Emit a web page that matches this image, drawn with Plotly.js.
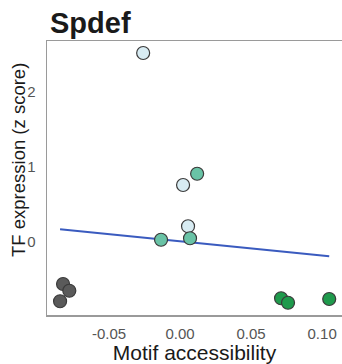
<!DOCTYPE html>
<html>
<head>
<meta charset="utf-8">
<script src="https://cdn.plot.ly/plotly-3.0.1.min.js"></script>
<style>
  html, body { margin: 0; padding: 0; background: #ffffff; }
  #chart { width: 342px; height: 364px; }
</style>
</head>
<body>
<div id="chart"></div>
<script>
// Motif accessibility vs TF expression, grouped by cell state
const lightX = [-0.026, 0.0021, 0.0056];
const lightY = [2.52, 0.76, 0.21];

const tealX = [0.012, 0.007, -0.0134];
const tealY = [0.91, 0.05, 0.03];

const darkX = [-0.0824, -0.078, -0.0845];
const darkY = [-0.56, -0.65, -0.79];

const greenX = [0.0711, 0.076, 0.105];
const greenY = [-0.75, -0.81, -0.76];

// linear fit drawn across the data range
const fitX = [-0.0845, 0.105];
const fitY = [0.17, -0.19];

const xTickVals = [-0.05, 0.00, 0.05, 0.10];
const xTickText = ['-0.05', '0.00', '0.05', '0.10'];
const yTickVals = [0, 1, 2];
const yTickText = ['0', '1', '2'];

const outline = { color: '#3a3a3a', width: 1.2 };

function pts(x, y, fill) {
  return {
    type: 'scatter', mode: 'markers', x: x, y: y,
    marker: { size: 13, color: fill, line: outline },
    hoverinfo: 'skip', showlegend: false
  };
}

const data = [
  {
    type: 'scatter', mode: 'lines', x: fitX, y: fitY,
    line: { color: '#3a5bbf', width: 2.2 },
    hoverinfo: 'skip', showlegend: false
  },
  pts(darkX, darkY, '#5a5a5a'),
  pts(greenX, greenY, '#1f9a4c'),
  pts(lightX, lightY, '#d8ecf3'),
  pts(tealX, tealY, '#69c3a6')
];

const textFamily = 'Liberation Sans, Arial, sans-serif';
const axisFont = { family: textFamily, size: 15, color: '#555555' };

const layout = {
  width: 342, height: 364,
  margin: { l: 47, r: 0, t: 41, b: 49 },
  paper_bgcolor: '#ffffff', plot_bgcolor: '#ffffff',
  title: {
    text: '<b>Spdef</b>',
    font: { family: textFamily, size: 29, color: '#1a1a1a' },
    xref: 'container', yref: 'container',
    x: 50 / 342, xanchor: 'left',
    y: 1 - 23 / 364, yanchor: 'middle'
  },
  xaxis: {
    range: [-0.0937, 0.114],
    tickvals: xTickVals, ticktext: xTickText,
    ticks: '', ticklabelstandoff: 4,
    tickfont: axisFont,
    showgrid: false, zeroline: false,
    showline: true, linecolor: '#9a9a9a', linewidth: 1.5, mirror: true,
    title: {
      text: 'Motif accessibility',
      font: { family: textFamily, size: 21, color: '#1a1a1a' },
      standoff: 2
    }
  },
  yaxis: {
    range: [-0.973, 2.68],
    tickvals: yTickVals, ticktext: yTickText,
    ticks: '', ticklabelstandoff: 7,
    tickfont: axisFont,
    showgrid: false, zeroline: false,
    showline: true, linecolor: '#9a9a9a', linewidth: 1.5
  },
  annotations: [{
    text: 'TF expression (z score)',
    xref: 'paper', yref: 'paper',
    x: (18 - 47) / 295, y: (315 - 160) / 274,
    xanchor: 'center', yanchor: 'middle',
    textangle: -90, showarrow: false,
    font: { family: textFamily, size: 18.5, color: '#1a1a1a' }
  }]
};

Plotly.newPlot('chart', data, layout, { staticPlot: true, displayModeBar: false });
</script>
</body>
</html>
